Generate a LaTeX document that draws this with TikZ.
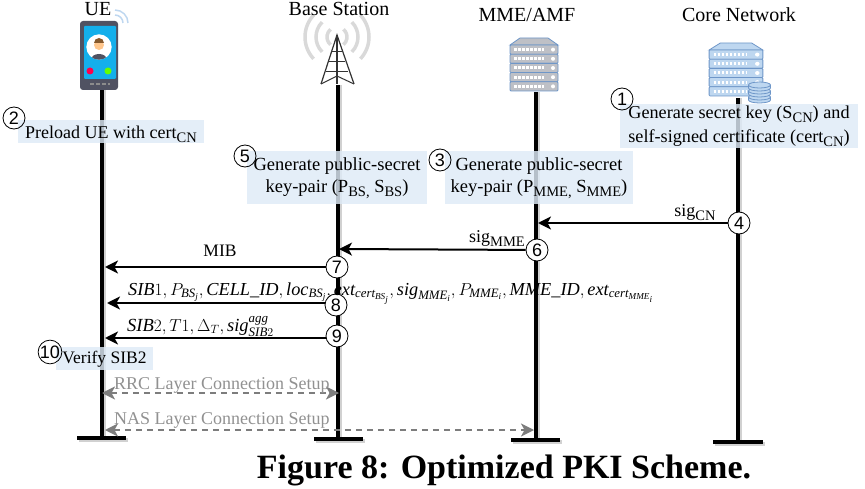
\documentclass[tikz,border=0pt]{standalone}
\usepackage{amsmath}
\usepackage{fontspec}
\setmainfont{Liberation Serif}
\newfontfamily\numfont{Liberation Sans}
\usepackage{xcolor}
\usetikzlibrary{arrows.meta}
\definecolor{notefill}{RGB}{222,234,246}
\definecolor{serverblue}{RGB}{110,150,200}
\definecolor{serverlight}{RGB}{190,215,240}
\definecolor{servergray}{RGB}{190,192,198}
\definecolor{phonedark}{RGB}{80,82,98}
\definecolor{phoneblue}{RGB}{20,175,235}
\definecolor{setupgray}{RGB}{125,125,125}
\newcommand{\lowsub}[1]{\smash{\raisebox{-4pt}{\fontsize{14.5}{14.5}\selectfont #1}}}
\tikzset{
    label/.style={font=\fontsize{18}{22}\selectfont, align=center, inner sep=0pt},
    entity/.style={font=\fontsize{20}{24}\selectfont, inner sep=0pt},
    note/.style={font=\fontsize{18.5}{22}\selectfont, align=center, inner sep=0pt, fill=notefill, fill opacity=0.82, text opacity=1, execute at begin node={\rule{0pt}{14pt}}},
    notetwo/.style={note, execute at begin node={\rule{0pt}{22pt}}},
    stepnum/.style={circle, draw=black, thick, fill=white, inner sep=0pt, minimum size=22pt, font=\numfont\fontsize{18}{18}\selectfont},
    stepfree/.style={stepnum, fill=none},
    lifeline/.style={line width=4pt},
    lifeshadow/.style={line width=4pt, black!18},
    msg/.style={line width=2pt, -{Stealth[length=13pt,width=13pt,inset=3.5pt]}},
    setup/.style={line width=1.6pt, setupgray, dash pattern=on 6pt off 5pt, {Stealth[length=13pt,width=13pt,inset=3.5pt]}-{Stealth[length=13pt,width=13pt,inset=3.5pt]}},
    pics/serverstack/.style={code={
        % top cap, then the rack units
        \draw[serverblue, fill=#1, line width=0.8pt] (-24,7) -- (-14,0) -- (14,0) -- (24,7) -- cycle;
        \foreach \u in {1,...,5} {
            \draw[serverblue, fill=#1, line width=0.8pt, rounded corners=1pt] (-24,{7+(\u-1)*9.2}) rectangle (24,{7+\u*9.2});
            \draw[white, line width=3pt, dash pattern=on 2.5pt off 1.5pt] (-20,{7+(\u-0.5)*9.2}) -- (10,{7+(\u-0.5)*9.2});
            \fill[white] (19,{7+(\u-0.5)*9.2}) circle (2pt);
        }
    }},
}

\begin{document}
\begin{tikzpicture}[x=1pt, y=-1pt]
    \useasboundingbox (0,0) rectangle (865,489);

    % lifeline ends
    \coordinate (uetop) at (102,88);
    \coordinate (uebot) at (102,438);
    \coordinate (bstop) at (337.5,85);
    \coordinate (bsbot) at (337.5,439);
    \coordinate (mmetop) at (536,92);
    \coordinate (mmebot) at (536,440);
    \coordinate (cntop) at (738,98);
    \coordinate (cnbot) at (738,442);

    % soft shadows
    \draw[lifeshadow] (104,88) -- (104,441);
    \draw[lifeshadow] (339.5,85) -- (339.5,442);
    \draw[lifeshadow] (538,92) -- (538,443);
    \draw[lifeshadow] (740,98) -- (740,445);
    \draw[lifeshadow] (79,440) -- (128,440);
    \draw[lifeshadow] (316,441) -- (365,441);
    \draw[lifeshadow] (513,442) -- (562,442);
    \draw[lifeshadow] (715,444) -- (765,444);

    \draw[lifeline] (uetop) -- (uebot);
    \draw[lifeline] (bstop) -- (bsbot);
    \draw[lifeline] (mmetop) -- (mmebot);
    \draw[lifeline] (cntop) -- (cnbot);
    \draw[lifeline] (77,438) -- (126,438);
    \draw[lifeline] (314,439) -- (363,439);
    \draw[lifeline] (511,440) -- (560,440);
    \draw[lifeline] (713,442) -- (763,442);

    % phone
    \draw[serverlight, line width=1.5pt] (115,15) arc (-90:0:8);
    \draw[serverlight, line width=1.5pt] (115,10) arc (-90:0:13);
    \fill[phonedark, rounded corners=3pt] (80,21) rectangle (118,90);
    \fill[phoneblue, rounded corners=1pt] (84,26) rectangle (116,79);
    \fill[white] (99,47) circle (12.7);
    \begin{scope}
        \clip (99,47) circle (12.7);
        \fill[phonedark] (91,60) .. controls (91,52) and (107,52) .. (107,60) -- cycle;
        \fill[orange!45!white] (99,45) circle (5);
        \fill[brown!70!black] (94,43) arc (180:360:5) -- cycle;
    \end{scope}
    \fill[red!70!magenta] (90,71) circle (3.5);
    \fill[green!60!yellow] (108,71) circle (3.5);
    \draw[black!45, line width=1.5pt, dash pattern=on 4pt off 2pt] (90,84) -- (110,84);

    % tower with its radio rings
    \draw[black!15, line width=3.5pt] (337,37) +(137:32) arc (137:223:32);
    \draw[black!15, line width=3.5pt] (337,37) +(-43:32) arc (-43:43:32);
    \draw[black!15, line width=3.5pt] (337,37) +(135:21) arc (135:225:21);
    \draw[black!15, line width=3.5pt] (337,37) +(-45:21) arc (-45:45:21);
    \draw[black!15, line width=3.5pt] (337,37) +(130:10) arc (130:230:10);
    \draw[black!15, line width=3.5pt] (337,37) +(-50:10) arc (-50:50:10);
    \draw[black!80, line width=1.2pt] (321,84) -- (337,35) -- (354,84);
    \draw[black!80, line width=1.2pt] (337,35) -- (337,84);
    \draw[black!80, line width=1pt] (332,52) -- (342,52);
    \draw[black!80, line width=1pt] (329,62) -- (345,62);
    \draw[black!80, line width=1pt] (326,72) -- (348,72);
    \draw[black!80, line width=1pt] (321,84) -- (337,76) -- (354,84);

    % servers
    \pic at (534,38) {serverstack={servergray}};
    \pic[xscale=1.12] at (736,43) {serverstack={serverlight}};
    \foreach \y in {97,91,85} {
        \draw[serverblue, fill=serverlight, line width=0.8pt] (748.5,\y) -- (748.5,\y+3) arc (180:0:11 and 3) -- (770.5,\y) arc (0:-180:11 and 3) -- cycle;
        \draw[serverblue, line width=0.8pt] (748.5,\y) arc (180:0:11 and 3);
    }

    % entity names
    \node[entity] (uename) at (98,9) {UE};
    \node[entity] (bsname) at (339,9) {Base Station};
    \node[entity] (mmename) at (527,15) {MME/AMF};
    \node[entity] (cnname) at (739,15) {Core Network};

    % notes
    \node[note, font=\fontsize{18}{22}\selectfont, minimum width=186pt, minimum height=23pt] (preload) at (111,131.5) {Preload UE with cert\lowsub{CN}};
    \node[notetwo, minimum width=180pt, minimum height=53pt] (bskeys) at (337,177.5) {Generate public-secret\\key-pair (P\lowsub{BS,} S\lowsub{BS})};
    \node[notetwo, minimum width=188pt, minimum height=53pt] (mmekeys) at (539,177.5) {Generate public-secret\\key-pair (P\lowsub{MME,} S\lowsub{MME})};
    \node[notetwo, font=\fontsize{18.2}{22}\selectfont, minimum width=238pt, minimum height=44pt] (cnkeys) at (739,126) {Generate secret key (S\lowsub{CN}) and\\[2pt]self-signed certificate (cert\lowsub{CN})};
    \node[note, font=\fontsize{17.5}{21}\selectfont, minimum width=97pt, minimum height=23pt] (verify) at (104.5,358.5) {Verify SIB2};

    % lifeline points the messages end on
    \coordinate (mmein) at (538,223);
    \coordinate (bsin) at (339,249);
    \coordinate (uemib) at (105,267);
    \coordinate (uesib) at (107,303);
    \coordinate (uesibb) at (105,338);
    \coordinate (uerrc) at (102,393);
    \coordinate (bsrrc) at (339,393);
    \coordinate (uenas) at (105,430);
    \coordinate (mmenas) at (534,430);

    % steps
    \node[stepfree] (one) at (622,99) {1};
    \node[stepfree] (two) at (14,118) {2};
    \node[stepfree] (three) at (440,160) {3};
    \node[stepnum] (four) at (739,223) {4};
    \node[stepfree] (five) at (245,156) {5};
    \node[stepnum] (six) at (537,250) {6};
    \node[stepnum] (seven) at (337,267) {7};
    \node[stepnum] (eight) at (336,305) {8};
    \node[stepnum] (nine) at (337,336) {9};
    \node[stepfree] (ten) at (50,352) {10};

    % messages
    \draw[msg] (four) -- (mmein);
    \draw[msg] (six) -- (bsin);
    \draw[msg] (seven) -- (uemib);
    \draw[msg] (eight.west |- uesib) -- (uesib);
    \draw[msg] (nine.west |- uesibb) -- (uesibb);
    \draw[setup] (uerrc) -- (bsrrc);
    \draw[setup] (uenas) -- (mmenas);

    % message labels
    \node[label] (siglabcn) at (695,212) {sig\lowsub{CN}};
    \node[label] (siglabmme) at (497,238) {sig\lowsub{MME}};
    \node[label, font=\fontsize{17.5}{21}\selectfont] (miblab) at (220,251) {MIB};
    \node[label, font=\fontsize{18.3}{22}\selectfont, anchor=base west] (sibone) at (128,295) {$\mathit{SIB}1, P_{\mathit{BS}_{\mathit{j}}}, \mathit{CELL\_ID}, \mathit{loc}_{\mathit{BS}_{\mathit{j}}}, \mathit{ext}_{\mathit{cert}_{\mathit{BS}_{\mathit{j}}}}, \mathit{sig}_{\mathit{MME}_{\mathit{i}}}, P_{\mathit{MME}_{\mathit{i}}}, \mathit{MME\_ID}, \mathit{ext}_{\mathit{cert}_{\mathit{MME}_{\mathit{i}}}}$};
    \node[label, font=\fontsize{18.5}{22}\selectfont, anchor=base west] (sibtwo) at (127,331) {$\mathit{SIB}2, T1, \Delta_{T}, \mathit{sig}^{\mathit{agg}}_{\mathit{SIB}2}$};
    \node[label, text=setupgray!85, anchor=west] (rrclab) at (114,385) {RRC Layer Connection Setup};
    \node[label, text=setupgray!85, anchor=west] (naslab) at (114,420) {NAS Layer Connection Setup};

    % caption
    \node[inner sep=0pt, anchor=base] (caption) at (504,478) {\fontsize{34}{40}\selectfont\bfseries Figure 8: Optimized PKI Scheme.};
\end{tikzpicture}
\end{document}
